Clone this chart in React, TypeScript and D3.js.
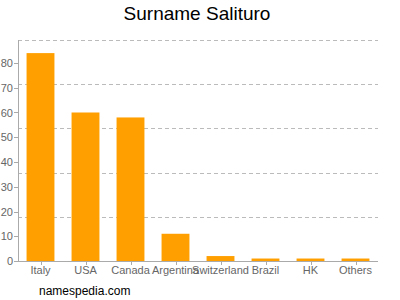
import React from "react";
import * as d3 from "d3";

const categories = ["Italy", "USA", "Canada", "Argentina", "Switzerland", "Brazil", "HK", "Others"];
const values = [84, 60, 58, 11, 2, 1, 1, 1];
const yTicks = [0, 10, 20, 30, 40, 50, 60, 70, 80];
const gridCount = 5;

export default function App() {
  const W = 400, H = 300;
  const left = 18, right = 378, top = 40, bottom = 261;
  const yMax = (bottom - top) / 2.475;
  const y = d3.scaleLinear().domain([0, yMax]).range([bottom, top]);
  const x = d3.scaleBand().domain(categories).range([left, right]).paddingInner(0.38).paddingOuter(0.19);
  const gridStep = yMax / gridCount;
  const grids = d3.range(1, gridCount + 1).map((i) => i * gridStep);
  const font = "Liberation Sans, Arial, sans-serif";
  return (
    <svg width={W} height={H} style={{ position: "absolute", left: 0, top: 0, background: "#fff" }}>
      <text x={197} y={20} textAnchor="middle" fontFamily={font} fontSize={19} fill="#000">Surname Salituro</text>
      {grids.map((g, i) => (
        <line key={i} x1={left} x2={right} y1={Math.round(y(g)) + 0.5} y2={Math.round(y(g)) + 0.5} stroke="#bbb" strokeDasharray="4,3" />
      ))}
      {categories.map((c, i) => (
        <rect key={c} x={x(c)} width={x.bandwidth()} y={y(values[i])} height={bottom - y(values[i])} fill="#ffa000" />
      ))}
      <line x1={left + 0.5} x2={left + 0.5} y1={top} y2={bottom} stroke="#aaa" />
      <line x1={left} x2={right} y1={bottom + 0.5} y2={bottom + 0.5} stroke="#aaa" />
      {yTicks.map((t) => (
        <g key={t}>
          <line x1={left - 4} x2={left} y1={Math.round(y(t)) + 0.5} y2={Math.round(y(t)) + 0.5} stroke="#aaa" />
          <text x={left - 5} y={y(t) + 4} textAnchor="end" fontFamily={font} fontSize={11} fill="#666">{t}</text>
        </g>
      ))}
      {categories.map((c) => {
        const cx = (x(c) as number) + x.bandwidth() / 2;
        return (
          <g key={c}>
            <line x1={Math.round(cx) + 0.5} x2={Math.round(cx) + 0.5} y1={bottom} y2={bottom + 4} stroke="#aaa" />
            <text x={cx} y={bottom + 13} textAnchor="middle" fontFamily={font} fontSize={11} fill="#666">{c}</text>
          </g>
        );
      })}
      <text x={39} y={295} fontFamily={font} fontSize={12} fill="#000">namespedia.com</text>
    </svg>
  );
}
